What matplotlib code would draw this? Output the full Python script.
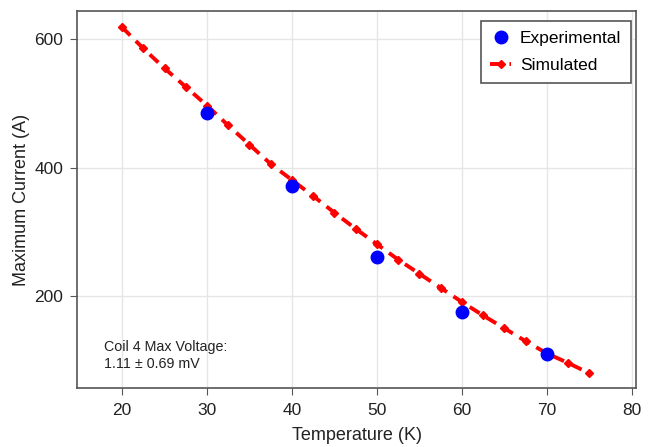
import matplotlib
matplotlib.use("Agg")
import matplotlib.pyplot as plt

plt.rcParams['font.family'] = ['Liberation Sans', 'DejaVu Sans']

# Measured maximum current vs temperature
exp_temp = [30, 40, 50, 60, 70]
exp_current = [485, 371, 261, 175, 110]

# Simulated maximum current, sampled every 2.5 K
sim_temp = [20, 22.5, 25, 27.5, 30, 32.5, 35, 37.5, 40, 42.5, 45, 47.5,
            50, 52.5, 55, 57.5, 60, 62.5, 65, 67.5, 70, 72.5, 75]
sim_current = [619, 586, 555, 526, 497, 466, 436, 406, 381, 356, 330, 305,
               281, 257, 235, 213, 191, 170, 150, 130, 111, 96, 80]

x_ticks = [20, 30, 40, 50, 60, 70, 80]
y_ticks = [200, 400, 600]

fig = plt.figure(figsize=(6.5, 4.47), dpi=100)
ax = fig.add_axes([0.1185, 0.132, 0.86, 0.843])

ax.plot(sim_temp, sim_current, color='red', linestyle=(0, (3, 2)), linewidth=2.8,
        marker='D', markersize=4.5, label='Simulated', zorder=3)
ax.plot(exp_temp, exp_current, linestyle='none', marker='o', color='blue',
        markersize=9, label='Experimental', zorder=4)

ax.set_xlim(14.7, 80.5)
ax.set_ylim(57, 644)
ax.set_xticks(x_ticks)
ax.set_yticks(y_ticks)
ax.grid(True, color='#e6e6e6', linewidth=1)
ax.set_axisbelow(True)

for s in ax.spines.values():
    s.set_color('#555555')
    s.set_linewidth(1.2)
ax.tick_params(direction='out', length=5, color='#555555', labelsize=12.5,
               labelcolor='#222222', pad=5)
ax.tick_params(axis='x', pad=6)

ax.set_xlabel('Temperature (K)', fontsize=13, color='#222222', labelpad=6)
ax.set_ylabel('Maximum Current (A)', fontsize=13, color='#222222', labelpad=3)

handles, labels = ax.get_legend_handles_labels()
leg = ax.legend(handles[::-1], labels[::-1], loc='upper right', fontsize=12.5,
                fancybox=False, framealpha=1, edgecolor='#555555',
                handlelength=1.2, handletextpad=0.5, borderpad=0.55,
                labelspacing=0.7, bbox_to_anchor=(1.006, 0.997))
leg.get_frame().set_linewidth(1.2)

ax.text(0.048, 0.128, 'Coil 4 Max Voltage:\n1.11 ± 0.69 mV', transform=ax.transAxes,
        fontsize=10.3, color='#222222', va='top', ha='left', linespacing=1.25)

fig.savefig('out.png', dpi=100)
